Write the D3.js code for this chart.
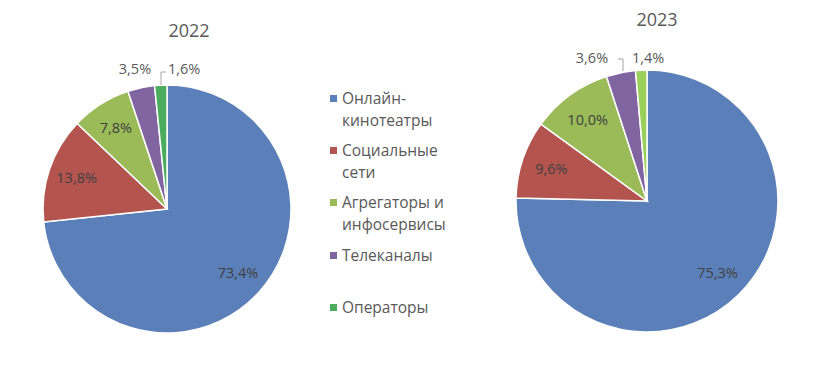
<!DOCTYPE html>
<html>
<head>
<meta charset="utf-8">
<script src="https://cdn.jsdelivr.net/npm/d3@7"></script>
<style>
  body { margin: 0; background: #fff; }
  text { font-family: "Open Sans", sans-serif; }
</style>
</head>
<body>
<div id="chart"></div>
<script>
// data
var categories = ["Онлайн-кинотеатры", "Социальные сети", "Агрегаторы и инфосервисы", "Телеканалы", "Операторы"];
var legendLines = [["Онлайн-", "кинотеатры"], ["Социальные", "сети"], ["Агрегаторы и", "инфосервисы"], ["Телеканалы"], ["Операторы"]];
var years = ["2022", "2023"];
var values2022 = [73.4, 13.8, 7.8, 3.5, 1.6];
var values2023 = [75.3, 9.6, 10.0, 3.6, 1.4];

var width = 818,
    height = 372;

var colors = ["#5b7fb8", "#b4544f", "#9bbb59", "#8065a1", "#4bac5e"];
var colors2023 = ["#5b7fb8", "#b4544f", "#9bbb59", "#8065a1", "#9bcf5c"];

var svg = d3.select("#chart").append("svg")
    .attr("width", width)
    .attr("height", height);

var pie = d3.pie().sort(null).value(function(d){ return d; });

// pie settings: center, radius, title pos, outside label positions
var pies = [
  { year: years[0], values: values2022, fill: colors, cx: 167, cy: 209, r: 124, tx: 189, ty: 37,
    outside: { 3: { x: 135, y: 74, anchor: "middle" }, 4: { x: 168, y: 74, anchor: "start", leader: [[161, 85], [161, 72], [166, 72]] } } },
  { year: years[1], values: values2023, fill: colors2023, cx: 647, cy: 201, r: 131, tx: 657, ty: 26,
    outside: { 3: { x: 592, y: 63, anchor: "middle", leader: [[623, 71], [623, 59], [618, 59]] }, 4: { x: 632, y: 63, anchor: "start" } } }
];

pies.forEach(function(p){
  var g = svg.append("g").attr("transform", "translate(" + p.cx + "," + p.cy + ")");
  var arc = d3.arc().innerRadius(0).outerRadius(p.r);
  var labelArc = d3.arc().innerRadius(p.r * 0.77).outerRadius(p.r * 0.77);
  var arcs = pie(p.values);

  g.selectAll("path")
    .data(arcs)
    .enter()
    .append("path")
    .attr("d", arc)
    .style("fill", function(d, i){ return p.fill[i]; })
    .style("stroke", "#fff")
    .style("stroke-width", "1.5px");

  arcs.forEach(function(d, i){
    var txt = d3.format(".1f")(d.data).replace(".", ",") + "%";
    var o = p.outside[i];
    if (o) {
      if (o.leader) {
        svg.append("path")
          .attr("d", d3.line()(o.leader))
          .style("fill", "none")
          .style("stroke", "#a6a6a6")
          .style("stroke-width", "1px");
      }
      svg.append("text")
        .attr("x", o.x)
        .attr("y", o.y)
        .attr("text-anchor", o.anchor)
        .style("font-size", "14.5px")
        .style("fill", "#595959")
        .text(txt);
    } else {
      var c = labelArc.centroid(d);
      g.append("text")
        .attr("x", c[0])
        .attr("y", c[1])
        .attr("dy", "0.35em")
        .attr("text-anchor", "middle")
        .style("font-size", "14.5px")
        .style("fill", "#404040")
        .text(txt);
    }
  });

  svg.append("text")
    .attr("x", p.tx)
    .attr("y", p.ty)
    .attr("text-anchor", "middle")
    .style("font-size", "18px")
    .style("fill", "#595959")
    .text(p.year);
});

// legend
var legendY = [99, 151, 203, 256, 308];
var legend = svg.append("g");
legendLines.forEach(function(lines, i){
  legend.append("rect")
    .attr("x", 330)
    .attr("y", legendY[i] - 4)
    .attr("width", 7)
    .attr("height", 7)
    .style("fill", colors[i]);
  lines.forEach(function(line, j){
    legend.append("text")
      .attr("x", 342)
      .attr("y", legendY[i] + j * 22)
      .attr("dy", "0.35em")
      .style("font-size", "15.5px")
      .style("fill", "#595959")
      .text(line);
  });
});
</script>
</body>
</html>
